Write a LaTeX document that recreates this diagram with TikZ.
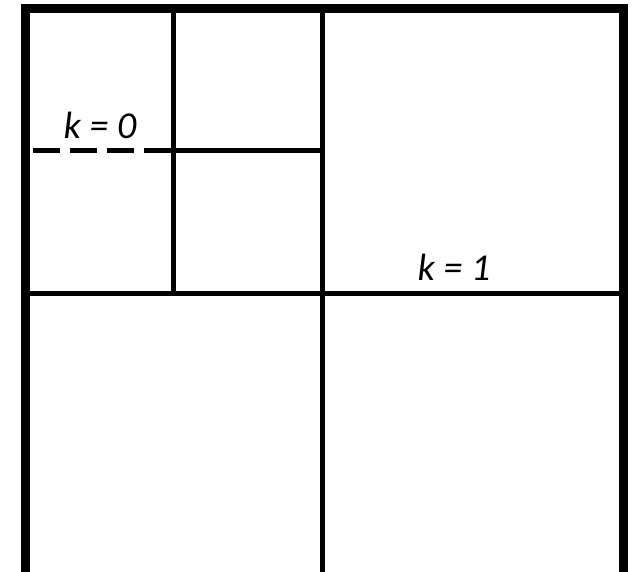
\documentclass[tikz,border=0pt]{standalone}
\usepackage{fontspec}
\setmainfont{Carlito}
\begin{document}
\begin{tikzpicture}[x=1pt,y=-1pt,
  outer/.style={line width=9pt,line cap=rect},
  inner/.style={line width=5pt},
  dashpart/.style={line width=5pt,dash pattern=on 27pt off 10pt},
  lbl/.style={font=\fontsize{38}{42}\selectfont\itshape,inner sep=0pt,anchor=base}]
\fill[white] (0,0) rectangle (632,572);
\useasboundingbox (0,0) rectangle (632,572);
% corners of frame
\coordinate (tl) at (25.5,8.5);
\coordinate (tr) at (623,8.5);
\coordinate (bl) at (25.5,580);
\coordinate (br) at (623,580);
% inner grid
\coordinate (mtop) at (322,8.5);
\coordinate (mbot) at (322,580);
\coordinate (hl) at (25.5,293);
\coordinate (hr) at (623,293);
\coordinate (qtop) at (173,8.5);
\coordinate (qbot) at (173,293);
\coordinate (dstart) at (33,151);
\coordinate (dend) at (145,151);
\coordinate (qr) at (322,151);
\draw[inner] (mtop) -- (mbot);
\draw[inner] (hl) -- (hr);
\draw[inner] (qtop) -- (qbot);
\draw[inner] (dend) -- (qr);
\draw[dashpart] (dstart) -- (dend);
\draw[outer] (bl) -- (tl) -- (tr) -- (br);
\node[lbl] (k0) at (100,139) {k = 0};
\node[lbl] (k1) at (454,280) {k = 1};
\end{tikzpicture}
\end{document}
